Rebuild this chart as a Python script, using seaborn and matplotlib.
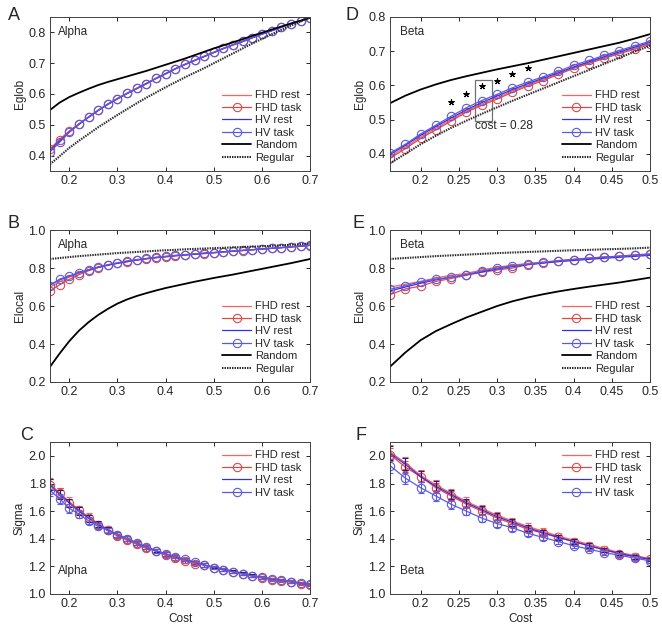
import matplotlib
matplotlib.use("Agg")
import matplotlib.pyplot as plt
import matplotlib.patches as mpatches
import seaborn as sns

# cost grids
cost_alpha = [0.16, 0.18, 0.20, 0.22, 0.24, 0.26, 0.28, 0.30, 0.32, 0.34, 0.36, 0.38, 0.40, 0.42,
              0.44, 0.46, 0.48, 0.50, 0.52, 0.54, 0.56, 0.58, 0.60, 0.62, 0.64, 0.66, 0.68, 0.70]
cost_beta = [0.16, 0.18, 0.20, 0.22, 0.24, 0.26, 0.28, 0.30, 0.32, 0.34, 0.36, 0.38, 0.40, 0.42,
             0.44, 0.46, 0.48, 0.50]

# A: Eglob alpha
fhd_rest_A = [0.420, 0.450, 0.478, 0.503, 0.526, 0.548, 0.568, 0.586, 0.603, 0.619, 0.635, 0.651, 0.667, 0.682,
              0.697, 0.710, 0.723, 0.736, 0.749, 0.761, 0.772, 0.784, 0.795, 0.806, 0.817, 0.828, 0.838, 0.848]
fhd_task_A = [0.422, 0.452, 0.480, 0.503, 0.525, 0.547, 0.567, 0.585, 0.602, 0.618, 0.634, 0.651, 0.666, 0.682,
              0.696, 0.709, 0.722, 0.735, 0.748, 0.760, 0.771, 0.783, 0.795, 0.806, 0.817, 0.828, 0.838, 0.848]
hv_rest_A = [0.416, 0.447, 0.476, 0.501, 0.524, 0.546, 0.566, 0.584, 0.601, 0.617, 0.633, 0.650, 0.665, 0.681,
             0.695, 0.708, 0.721, 0.734, 0.747, 0.759, 0.770, 0.782, 0.794, 0.805, 0.816, 0.827, 0.837, 0.847]
hv_task_A = [0.412, 0.443, 0.476, 0.502, 0.525, 0.547, 0.567, 0.585, 0.602, 0.618, 0.634, 0.651, 0.666, 0.682,
             0.696, 0.709, 0.722, 0.735, 0.748, 0.760, 0.771, 0.783, 0.795, 0.806, 0.817, 0.828, 0.838, 0.848]
random_A = [0.548, 0.572, 0.590, 0.604, 0.617, 0.629, 0.639, 0.648, 0.657, 0.666, 0.675, 0.685, 0.695, 0.705,
            0.715, 0.726, 0.737, 0.748, 0.758, 0.768, 0.778, 0.789, 0.799, 0.809, 0.819, 0.829, 0.838, 0.848]
regular_A = [0.372, 0.398, 0.425, 0.448, 0.470, 0.492, 0.512, 0.532, 0.551, 0.570, 0.588, 0.605, 0.622, 0.638,
             0.654, 0.669, 0.684, 0.700, 0.716, 0.732, 0.748, 0.764, 0.779, 0.794, 0.808, 0.822, 0.835, 0.848]

# D: Eglob beta
fhd_rest_D = [0.392, 0.420, 0.449, 0.475, 0.500, 0.525, 0.546, 0.564, 0.584, 0.601, 0.618, 0.634, 0.651, 0.666,
              0.681, 0.695, 0.709, 0.722]
fhd_task_D = [0.387, 0.415, 0.445, 0.470, 0.496, 0.522, 0.542, 0.560, 0.580, 0.598, 0.614, 0.632, 0.650, 0.664,
              0.679, 0.693, 0.706, 0.720]
hv_rest_D = [0.398, 0.425, 0.454, 0.480, 0.505, 0.529, 0.550, 0.569, 0.588, 0.605, 0.621, 0.637, 0.654, 0.669,
             0.684, 0.698, 0.712, 0.726]
hv_task_D = [0.402, 0.428, 0.458, 0.484, 0.510, 0.535, 0.556, 0.574, 0.593, 0.610, 0.625, 0.641, 0.659, 0.673,
             0.688, 0.702, 0.716, 0.729]
random_D = [0.548, 0.570, 0.588, 0.603, 0.616, 0.627, 0.637, 0.647, 0.656, 0.665, 0.675, 0.685, 0.695, 0.705,
            0.715, 0.725, 0.737, 0.750]
regular_D = [0.372, 0.400, 0.428, 0.453, 0.476, 0.497, 0.517, 0.536, 0.555, 0.573, 0.591, 0.609, 0.627, 0.645,
             0.663, 0.681, 0.699, 0.716]
star_x = [0.24, 0.26, 0.28, 0.30, 0.32, 0.34]
star_y = [0.553, 0.575, 0.597, 0.614, 0.632, 0.651]

# B: Elocal alpha
fhd_rest_B = [0.700, 0.728, 0.752, 0.772, 0.789, 0.803, 0.815, 0.825, 0.834, 0.842, 0.849, 0.855, 0.860, 0.865,
              0.869, 0.873, 0.877, 0.881, 0.885, 0.889, 0.893, 0.897, 0.900, 0.904, 0.908, 0.912, 0.916, 0.920]
fhd_task_B = [0.680, 0.712, 0.740, 0.765, 0.786, 0.803, 0.815, 0.825, 0.833, 0.842, 0.848, 0.854, 0.859, 0.864,
              0.868, 0.872, 0.876, 0.880, 0.884, 0.888, 0.892, 0.896, 0.900, 0.904, 0.907, 0.911, 0.915, 0.919]
hv_rest_B = [0.712, 0.738, 0.758, 0.776, 0.791, 0.805, 0.816, 0.826, 0.835, 0.843, 0.850, 0.856, 0.861, 0.866,
             0.870, 0.874, 0.878, 0.882, 0.886, 0.890, 0.893, 0.897, 0.901, 0.904, 0.908, 0.912, 0.916, 0.920]
hv_task_B = [0.708, 0.742, 0.757, 0.775, 0.792, 0.806, 0.818, 0.828, 0.838, 0.845, 0.851, 0.857, 0.862, 0.867,
             0.871, 0.875, 0.879, 0.882, 0.886, 0.890, 0.894, 0.897, 0.901, 0.905, 0.908, 0.912, 0.916, 0.920]
random_B = [0.280, 0.350, 0.415, 0.470, 0.515, 0.553, 0.585, 0.613, 0.635, 0.653, 0.668, 0.682, 0.695, 0.706,
            0.717, 0.728, 0.738, 0.748, 0.757, 0.766, 0.776, 0.786, 0.796, 0.806, 0.816, 0.826, 0.837, 0.848]
regular_B = [0.848, 0.853, 0.858, 0.863, 0.867, 0.871, 0.875, 0.879, 0.882, 0.885, 0.888, 0.891, 0.894, 0.896,
             0.899, 0.901, 0.903, 0.905, 0.907, 0.909, 0.911, 0.913, 0.915, 0.917, 0.920, 0.923, 0.926, 0.929]

# E: Elocal beta
fhd_rest_E = [0.700, 0.715, 0.730, 0.748, 0.762, 0.772, 0.790, 0.805, 0.815, 0.825, 0.832, 0.840, 0.847, 0.853,
              0.858, 0.862, 0.867, 0.872]
fhd_task_E = [0.660, 0.690, 0.705, 0.730, 0.745, 0.762, 0.778, 0.790, 0.800, 0.818, 0.828, 0.835, 0.845, 0.852,
              0.858, 0.863, 0.870, 0.875]
hv_rest_E = [0.680, 0.700, 0.720, 0.738, 0.752, 0.766, 0.780, 0.795, 0.808, 0.818, 0.826, 0.834, 0.840, 0.846,
             0.852, 0.857, 0.862, 0.867]
hv_task_E = [0.688, 0.707, 0.728, 0.742, 0.752, 0.765, 0.785, 0.800, 0.812, 0.820, 0.830, 0.838, 0.845, 0.852,
             0.858, 0.863, 0.868, 0.873]
random_E = [0.280, 0.355, 0.420, 0.468, 0.505, 0.540, 0.570, 0.600, 0.625, 0.645, 0.662, 0.677, 0.690, 0.702,
            0.713, 0.724, 0.737, 0.750]
regular_E = [0.848, 0.853, 0.858, 0.863, 0.867, 0.871, 0.875, 0.879, 0.882, 0.885, 0.888, 0.891, 0.894, 0.896,
             0.899, 0.901, 0.904, 0.908]

# C: Sigma alpha
fhd_rest_C = [1.80, 1.73, 1.67, 1.61, 1.56, 1.51, 1.47, 1.43, 1.40, 1.37, 1.34, 1.31, 1.29, 1.27,
              1.25, 1.23, 1.21, 1.195, 1.18, 1.165, 1.15, 1.135, 1.12, 1.11, 1.10, 1.09, 1.08, 1.07]
fhd_task_C = [1.79, 1.73, 1.66, 1.61, 1.55, 1.50, 1.46, 1.42, 1.39, 1.36, 1.33, 1.31, 1.28, 1.26,
              1.24, 1.22, 1.21, 1.19, 1.175, 1.16, 1.145, 1.13, 1.115, 1.105, 1.095, 1.085, 1.075, 1.065]
hv_rest_C = [1.79, 1.72, 1.66, 1.60, 1.55, 1.505, 1.465, 1.43, 1.40, 1.37, 1.34, 1.315, 1.29, 1.27,
             1.25, 1.23, 1.21, 1.195, 1.18, 1.165, 1.15, 1.135, 1.12, 1.11, 1.10, 1.09, 1.08, 1.07]
hv_task_C = [1.75, 1.69, 1.62, 1.58, 1.53, 1.49, 1.46, 1.43, 1.40, 1.37, 1.34, 1.31, 1.29, 1.27,
             1.25, 1.23, 1.21, 1.19, 1.175, 1.16, 1.145, 1.13, 1.12, 1.11, 1.10, 1.09, 1.08, 1.07]
err_C = [0.04, 0.035, 0.03, 0.028, 0.025, 0.022, 0.02, 0.018, 0.017, 0.016, 0.015, 0.014, 0.013, 0.012,
         0.012, 0.011, 0.011, 0.010, 0.010, 0.010, 0.009, 0.009, 0.009, 0.008, 0.008, 0.008, 0.008, 0.008]

# F: Sigma beta
fhd_rest_F = [2.03, 1.95, 1.86, 1.79, 1.73, 1.67, 1.62, 1.57, 1.53, 1.49, 1.455, 1.42, 1.39, 1.36,
              1.33, 1.30, 1.28, 1.255]
fhd_task_F = [2.01, 1.92, 1.85, 1.77, 1.71, 1.65, 1.60, 1.55, 1.51, 1.47, 1.44, 1.41, 1.38, 1.35,
              1.32, 1.29, 1.27, 1.255]
hv_rest_F = [2.02, 1.94, 1.85, 1.78, 1.72, 1.66, 1.61, 1.56, 1.52, 1.48, 1.445, 1.41, 1.38, 1.35,
             1.32, 1.295, 1.27, 1.25]
hv_task_F = [1.93, 1.84, 1.77, 1.71, 1.65, 1.60, 1.55, 1.51, 1.48, 1.44, 1.41, 1.38, 1.35, 1.325,
             1.30, 1.28, 1.26, 1.24]
err_F = [0.05, 0.045, 0.04, 0.035, 0.033, 0.03, 0.028, 0.026, 0.024, 0.022, 0.02, 0.019, 0.018, 0.017,
         0.016, 0.015, 0.014, 0.014]

sns.set_style("ticks")
plt.rcParams['font.family'] = ['Liberation Sans', 'DejaVu Sans']
plt.rcParams['font.size'] = 8

c_fhd_rest = "#ff6060"
c_fhd_task = "#e04848"
c_hv_rest = "#3030e8"
c_hv_task = "#5a5ae0"

fig = plt.figure(figsize=(6.62, 6.25), dpi=100)
lx, rx, w = 0.0755, 0.589, 0.393
rows = [(0.7264, 0.2464), (0.3888, 0.243), (0.0496, 0.243)]


def draw(ax, x, fr, ft, hr, ht, rnd=None, reg=None, err=None):
    sns.lineplot(x=x, y=fr, ax=ax, color=c_fhd_rest, linewidth=0.9, label="FHD rest")
    sns.lineplot(x=x, y=ft, ax=ax, color=c_fhd_task, linewidth=0.9, marker="o", markersize=6,
                 markerfacecolor="none", markeredgecolor=c_fhd_task, markeredgewidth=0.8, label="FHD task")
    sns.lineplot(x=x, y=hr, ax=ax, color=c_hv_rest, linewidth=0.9, label="HV rest")
    sns.lineplot(x=x, y=ht, ax=ax, color=c_hv_task, linewidth=0.9, marker="o", markersize=6,
                 markerfacecolor="none", markeredgecolor=c_hv_task, markeredgewidth=0.8, label="HV task")
    if err is not None:
        for vals, c in [(fr, c_fhd_rest), (ft, c_fhd_task), (hr, "#202080"), (ht, c_hv_task)]:
            ax.errorbar(x, vals, yerr=err, fmt="none", ecolor=c, elinewidth=0.8, capsize=2, capthick=0.8)
    if rnd is not None:
        sns.lineplot(x=x, y=rnd, ax=ax, color="black", linewidth=1.3, label="Random")
        sns.lineplot(x=x, y=reg, ax=ax, color="#2a2a2a", linewidth=1.5, linestyle=(0, (0.7, 0.5)),
                     label="Regular")
    ax.tick_params(direction="in", top=True, right=True, length=3, width=0.7, labelsize=9, pad=3)
    for s in ax.spines.values():
        s.set_linewidth(0.7)
        s.set_color("#404040")
    ax.set_xlabel("")


def finish(ax, xlim, xticks, xlabels, ylim, yticks, ylabel, tag, tagpos, letter, letterpos, legloc):
    ax.set_xlim(*xlim)
    ax.set_xticks(xticks)
    ax.set_xticklabels(xlabels)
    ax.set_ylim(*ylim)
    ax.set_yticks(yticks)
    ax.set_yticklabels(["%.1f" % v for v in yticks])
    ax.set_ylabel(ylabel, fontsize=8.5, labelpad=2)
    ax.text(tagpos[0], tagpos[1], tag, transform=ax.transAxes, fontsize=8.5, va="center", ha="left")
    fig.text(letterpos[0], letterpos[1], letter, fontsize=13, va="center", ha="left")
    ax.legend(loc=legloc, frameon=False, fontsize=8, handlelength=2.6, labelspacing=0.22,
              handletextpad=0.4, borderaxespad=0.35)


ax_labels = ["0.2", "0.3", "0.4", "0.5", "0.6", "0.7"]
ax_ticks = [0.2, 0.3, 0.4, 0.5, 0.6, 0.7]
bx_labels = ["0.2", "0.25", "0.3", "0.35", "0.4", "0.45", "0.5"]
bx_ticks = [0.2, 0.25, 0.3, 0.35, 0.4, 0.45, 0.5]

# A
ax = fig.add_axes([lx, rows[0][0], w, rows[0][1]])
draw(ax, cost_alpha, fhd_rest_A, fhd_task_A, hv_rest_A, hv_task_A, random_A, regular_A)
finish(ax, (0.16, 0.7), ax_ticks, ax_labels, (0.35, 0.85), [0.4, 0.5, 0.6, 0.7, 0.8], "Eglob",
       "Alpha", (0.03, 0.9), "A", (0.012, 0.976), "lower right")

# D
ax = fig.add_axes([rx, rows[0][0], w, rows[0][1]])
draw(ax, cost_beta, fhd_rest_D, fhd_task_D, hv_rest_D, hv_task_D, random_D, regular_D)
ax.scatter(star_x, star_y, marker=(5, 2, 0), s=14, color="black", linewidths=0.9, zorder=5)
ax.add_patch(mpatches.Rectangle((0.271, 0.497), 0.022, 0.118, fill=False, edgecolor="#707070", linewidth=0.9))
ax.text(0.271, 0.482, "cost = 0.28", fontsize=8.5, va="center", ha="left")
finish(ax, (0.16, 0.5), bx_ticks, bx_labels, (0.35, 0.8), [0.4, 0.5, 0.6, 0.7, 0.8], "Eglob",
       "Beta", (0.04, 0.9), "D", (0.522, 0.976), "lower right")

# B
ax = fig.add_axes([lx, rows[1][0], w, rows[1][1]])
draw(ax, cost_alpha, fhd_rest_B, fhd_task_B, hv_rest_B, hv_task_B, random_B, regular_B)
finish(ax, (0.16, 0.7), ax_ticks, ax_labels, (0.2, 1.0), [0.2, 0.4, 0.6, 0.8, 1.0], "Elocal",
       "Alpha", (0.03, 0.9), "B", (0.012, 0.643), "lower right")

# E
ax = fig.add_axes([rx, rows[1][0], w, rows[1][1]])
draw(ax, cost_beta, fhd_rest_E, fhd_task_E, hv_rest_E, hv_task_E, random_E, regular_E)
finish(ax, (0.16, 0.5), bx_ticks, bx_labels, (0.2, 1.0), [0.2, 0.4, 0.6, 0.8, 1.0], "Elocal",
       "Beta", (0.04, 0.9), "E", (0.533, 0.643), "lower right")

# C
ax = fig.add_axes([lx, rows[2][0], w, rows[2][1]])
draw(ax, cost_alpha, fhd_rest_C, fhd_task_C, hv_rest_C, hv_task_C, err=err_C)
finish(ax, (0.16, 0.7), ax_ticks, ax_labels, (1.0, 2.1), [1.0, 1.2, 1.4, 1.6, 1.8, 2.0], "Sigma",
       "Alpha", (0.03, 0.15), "C", (0.03, 0.304), "upper right")
ax.set_xlabel("Cost", fontsize=8.5, labelpad=2)

# F
ax = fig.add_axes([rx, rows[2][0], w, rows[2][1]])
draw(ax, cost_beta, fhd_rest_F, fhd_task_F, hv_rest_F, hv_task_F, err=err_F)
finish(ax, (0.16, 0.5), bx_ticks, bx_labels, (1.0, 2.1), [1.0, 1.2, 1.4, 1.6, 1.8, 2.0], "Sigma",
       "Beta", (0.04, 0.15), "F", (0.537, 0.304), "upper right")
ax.set_xlabel("Cost", fontsize=8.5, labelpad=2)

fig.savefig("out.png", dpi=100, facecolor="white")
